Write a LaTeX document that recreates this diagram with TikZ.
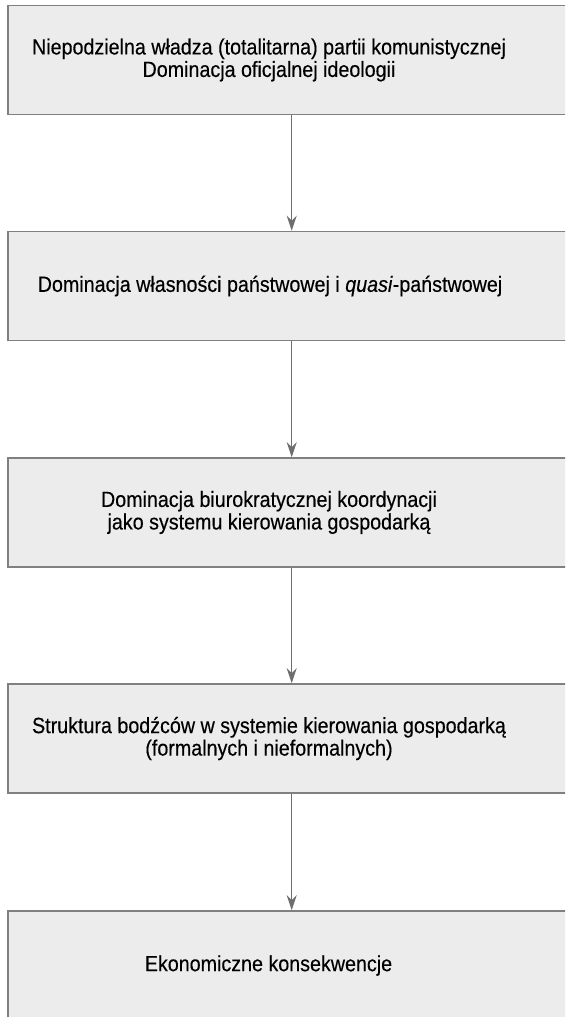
\documentclass[tikz,border=0pt]{standalone}
\usepackage{fontspec}
\setmainfont{Liberation Sans}[FakeStretch=0.895,FakeBold=0.3]
\usetikzlibrary{arrows.meta}
\definecolor{boxfill}{HTML}{ECECEC}
\definecolor{boxline}{HTML}{808080}
\definecolor{arrowc}{HTML}{6E6E6E}
\tikzset{
  stagebox/.style={draw=boxline, line width=1.6pt, fill=boxfill, minimum width=568pt, minimum height=109pt, inner sep=0pt},
  stagetext/.style={inner sep=0pt, align=center, font=\fontsize{22}{22.5}\selectfont},
  flowarrow/.style={draw=arrowc, line width=1.4pt, -{Stealth[length=15pt,width=10pt,inset=5pt]}}
}
\begin{document}
\begin{tikzpicture}[x=1pt,y=1pt]
\clip (0,0) rectangle (565,-1017);
\fill[white] (0,0) rectangle (565,-1017);
\node[stagebox] (b1) at (291.7,-60) {};
\node[stagebox] (b2) at (291.7,-286) {};
\node[stagebox] (b3) at (291.7,-512.5) {};
\node[stagebox] (b4) at (291.7,-738.5) {};
\node[stagebox] (b5) at (291.7,-965.5) {};
\node[stagetext] (t1) at (269,-60) {Niepodzielna władza (totalitarna) partii komunistycznej\\Dominacja oficjalnej ideologii};
\node[stagetext] (t2) at (270,-286) {Dominacja własności państwowej i \textit{quasi}-państwowej};
\node[stagetext] (t3) at (269,-512.5) {Dominacja biurokratycznej koordynacji\\jako systemu kierowania gospodarką};
\node[stagetext] (t4) at (269,-738.5) {Struktura bodźców w systemie kierowania gospodarką\\(formalnych i nieformalnych)};
\node[stagetext] (t5) at (268.5,-965.5) {Ekonomiczne konsekwencje};
\draw[flowarrow] (b1.south) -- (b2.north);
\draw[flowarrow] (b2.south) -- (b3.north);
\draw[flowarrow] (b3.south) -- (b4.north);
\draw[flowarrow] (b4.south) -- (b5.north);
\end{tikzpicture}
\end{document}
